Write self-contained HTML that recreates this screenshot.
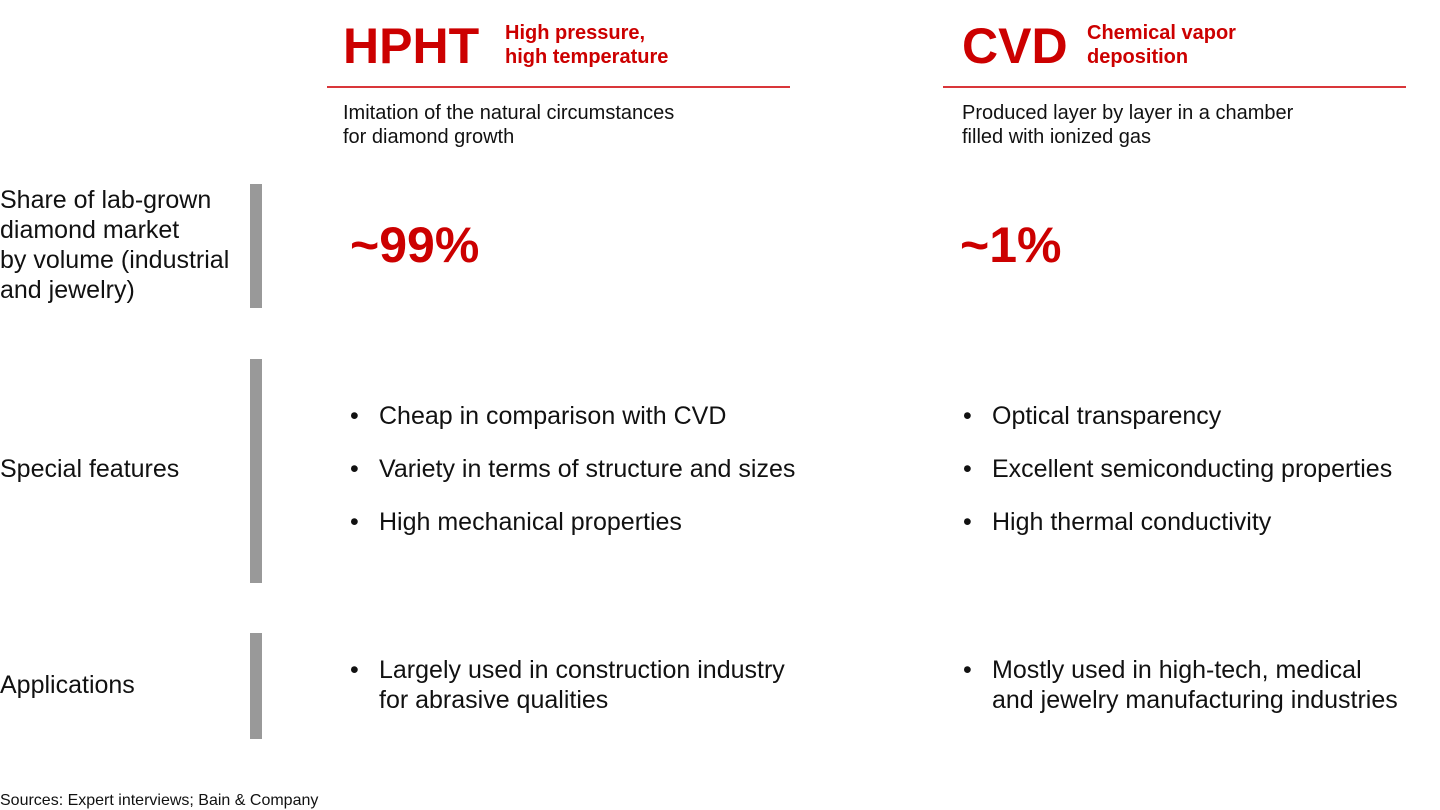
<!DOCTYPE html>
<html><head><meta charset="utf-8"><style>
body{margin:0;width:1440px;height:810px;background:#fff;position:relative;overflow:hidden;font-family:"Liberation Sans",Arial,sans-serif;color:#111}
.a{position:absolute;white-space:nowrap}
.red{color:#cc0000}
.big{font-size:50px;line-height:50px;font-weight:bold}
.sub{font-size:20px;line-height:24px;font-weight:bold}
.desc{font-size:20px;line-height:24px}
.lbl{font-size:25px;line-height:30px}
.pct{font-size:50px;line-height:50px;font-weight:bold}
.rule{position:absolute;height:2px;background:#d9363a}
.bar{position:absolute;left:250px;width:12px;background:#999}
.b{font-size:25px;line-height:30px}
</style></head><body>
<div class="a big red" style="left:343px;top:21px">HPHT</div>
<div class="a sub red" style="left:505px;top:21px">High pressure,<br>high temperature</div>
<div class="rule" style="left:327px;top:86px;width:463px"></div>
<div class="a desc" style="left:343px;top:101px">Imitation of the natural circumstances<br>for diamond growth</div>

<div class="a big red" style="left:962px;top:21px">CVD</div>
<div class="a sub red" style="left:1087px;top:21px">Chemical vapor<br>deposition</div>
<div class="rule" style="left:943px;top:86px;width:463px"></div>
<div class="a desc" style="left:962px;top:101px">Produced layer by layer in a chamber<br>filled with ionized gas</div>

<div class="a lbl" style="left:0;top:185px">Share of lab-grown<br>diamond market<br>by volume (industrial<br>and jewelry)</div>
<div class="bar" style="top:184px;height:124px"></div>
<div class="a pct red" style="left:350px;top:220px">~99%</div>
<div class="a pct red" style="left:960px;top:220px">~1%</div>

<div class="a lbl" style="left:0;top:454px">Special features</div>
<div class="bar" style="top:359px;height:224px"></div>
<div class="a b" style="left:350px;top:401px">•<span style="position:absolute;left:29px">Cheap in comparison with CVD</span></div>
<div class="a b" style="left:350px;top:454px">•<span style="position:absolute;left:29px">Variety in terms of structure and sizes</span></div>
<div class="a b" style="left:350px;top:507px">•<span style="position:absolute;left:29px">High mechanical properties</span></div>
<div class="a b" style="left:963px;top:401px">•<span style="position:absolute;left:29px">Optical transparency</span></div>
<div class="a b" style="left:963px;top:454px">•<span style="position:absolute;left:29px">Excellent semiconducting properties</span></div>
<div class="a b" style="left:963px;top:507px">•<span style="position:absolute;left:29px">High thermal conductivity</span></div>

<div class="a lbl" style="left:0;top:670px">Applications</div>
<div class="bar" style="top:633px;height:106px"></div>
<div class="a b" style="left:350px;top:655px">•<span style="position:absolute;left:29px">Largely used in construction industry<br>for abrasive qualities</span></div>
<div class="a b" style="left:963px;top:655px">•<span style="position:absolute;left:29px">Mostly used in high-tech, medical<br>and jewelry manufacturing industries</span></div>

<div class="a" style="left:0;top:792px;font-size:16px;line-height:18px">Sources: Expert interviews; Bain &amp; Company</div>
</body></html>
